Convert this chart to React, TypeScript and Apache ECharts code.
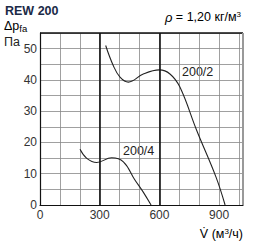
import React, { useEffect, useRef } from "react";
import * as echarts from "echarts";

const xTickLabels = [0, 300, 600, 900];
const yTickLabels = [0, 10, 20, 30, 40, 50];

const curve2Label = "200/2";
const curve2: [number, number][] = [
  [330, 51.0], [368, 44.6], [402, 40.9], [444, 39.3], [519, 41.9], [600, 43.2],
  [653, 41.9], [703, 37.7], [787, 23.9], [884, 9.0], [930, 0],
];

const curve4Label = "200/4";
const curve4: [number, number][] = [
  [201, 17.8], [235, 14.9], [285, 13.6], [360, 15.1], [419, 13.8], [477, 8.0],
  [518, 4.2], [558, 0],
];

const FONT = "'Liberation Sans', Arial, sans-serif";
const NAVY = "#1b2a47";

export default function App() {
  const ref = useRef<HTMLDivElement>(null);
  useEffect(() => {
    if (!ref.current) return;
    const chart = echarts.init(ref.current, undefined, { renderer: "svg" });
    chart.setOption({
      animation: false,
      textStyle: { fontFamily: FONT },
      grid: { left: 40, top: 33, right: 24, bottom: 39, containLabel: false },
      xAxis: {
        type: "value",
        min: 0,
        max: 1020,
        interval: 100,
        axisLine: { show: true, lineStyle: { color: "#111", width: 1.2 } },
        axisTick: { show: false },
        axisLabel: {
          color: "#333",
          fontSize: 12,
          margin: 4,
          fontFamily: FONT,
          formatter: (v: number) => (xTickLabels.includes(v) ? String(v) : ""),
        },
        splitLine: { show: true, lineStyle: { color: "#888", width: 0.8 } },
      },
      yAxis: {
        type: "value",
        min: 0,
        max: 55,
        interval: 5,
        axisLine: { show: true, lineStyle: { color: "#111", width: 1.2 } },
        axisTick: { show: false },
        axisLabel: {
          color: "#333",
          fontSize: 12,
          margin: 3,
          fontFamily: FONT,
          formatter: (v: number) => (yTickLabels.includes(v) ? String(v) : ""),
        },
        splitLine: { show: true, lineStyle: { color: "#888", width: 0.8 } },
      },
      series: [
        {
          type: "line",
          name: curve2Label,
          data: curve2,
          smooth: 0.4,
          showSymbol: false,
          lineStyle: { color: "#222", width: 1.1 },
          markLine: {
            silent: true,
            symbol: "none",
            label: { show: false },
            lineStyle: { color: "#111", width: 1.6, type: "solid" },
            data: [
              { xAxis: 300 },
              { xAxis: 600 },
              { yAxis: 55 },
              { xAxis: 1020, lineStyle: { color: "#999", width: 2 } },
            ],
          },
        },
        {
          type: "line",
          name: curve4Label,
          data: curve4,
          smooth: 0.4,
          showSymbol: false,
          lineStyle: { color: "#222", width: 1.1 },
        },
      ],
      graphic: [
        {
          type: "text",
          left: 5,
          top: 4,
          style: { text: "REW 200", font: `bold 12.5px ${FONT}`, fill: NAVY },
        },
        {
          type: "text",
          left: 4,
          top: 19,
          style: {
            text: "{a|Δp}{b|fa}",
            rich: {
              a: { fontSize: 12.5, fontFamily: FONT, color: "#222" },
              b: { fontSize: 9.5, fontFamily: FONT, color: "#222", padding: [6, 0, 0, 0] },
            },
          },
        },
        {
          type: "text",
          left: 4,
          top: 35,
          style: { text: "Па", font: `12.5px ${FONT}`, fill: "#222" },
        },
        {
          type: "text",
          right: 26,
          top: 10,
          style: {
            text: "{r|ρ}{a| = 1,20 кг/м}{b|3}",
            rich: {
              r: { fontSize: 13, fontStyle: "italic", fontFamily: FONT, color: "#222" },
              a: { fontSize: 12.5, fontFamily: FONT, color: "#222" },
              b: { fontSize: 8, fontFamily: FONT, color: "#222", padding: [0, 0, 6, 0] },
            },
          },
        },
        {
          type: "text",
          right: 24,
          top: 227,
          style: {
            text: "{a|V̇ (м}{b|3}{a|/ч)}",
            rich: {
              a: { fontSize: 12.5, fontFamily: FONT, color: NAVY },
              b: { fontSize: 8, fontFamily: FONT, color: NAVY, padding: [0, 0, 6, 0] },
            },
          },
        },
        {
          type: "text",
          left: 182,
          top: 65,
          style: { text: curve2Label, font: `12.5px ${FONT}`, fill: "#222" },
        },
        {
          type: "text",
          left: 123,
          top: 144,
          style: { text: curve4Label, font: `12.5px ${FONT}`, fill: "#222" },
        },
      ],
    });
    return () => chart.dispose();
  }, []);
  return (
    <div
      ref={ref}
      style={{ position: "fixed", left: 0, top: 0, width: 267, height: 244, background: "#fff" }}
    />
  );
}
